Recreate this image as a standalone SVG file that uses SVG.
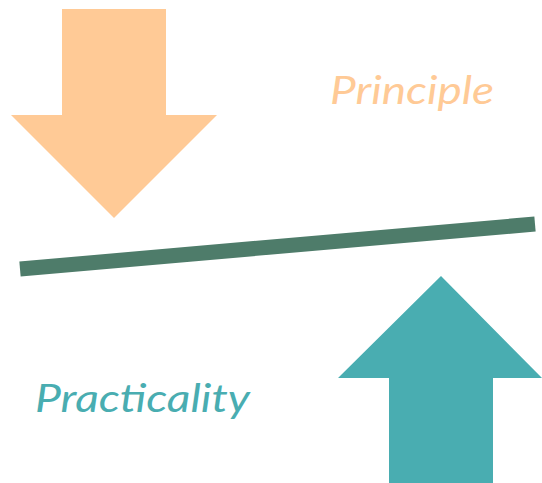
<svg xmlns="http://www.w3.org/2000/svg" width="542" height="483" viewBox="0 0 542 483">
  <style>
    .label { font-family: "Lato", "Open Sans", "Liberation Sans", sans-serif; font-style: italic; font-size: 38px; }
  </style>
  <rect width="542" height="483" fill="#ffffff"/>
  <!-- downward arrow: principle -->
  <g id="principle-arrow">
    <polygon points="62,9 166,9 166,115 217,115 114,218 11,115 62,115" fill="#FFCA96"/>
  </g>
  <g id="principle-label">
    <text class="label" x="330" y="104" fill="#FFCA96" textLength="164" lengthAdjust="spacingAndGlyphs">Principle</text>
  </g>
  <!-- balance beam -->
  <g id="beam">
    <line x1="20" y1="269" x2="535" y2="224" stroke="#4E7C6A" stroke-width="15"/>
  </g>
  <!-- upward arrow: practicality -->
  <g id="practicality-arrow">
    <polygon points="441,276 542,378 493,378 493,483 389,483 389,378 338,378" fill="#49ADB1"/>
  </g>
  <g id="practicality-label">
    <text class="label" x="35" y="412" fill="#49ADB1" textLength="215" lengthAdjust="spacingAndGlyphs">Practicality</text>
  </g>
</svg>
